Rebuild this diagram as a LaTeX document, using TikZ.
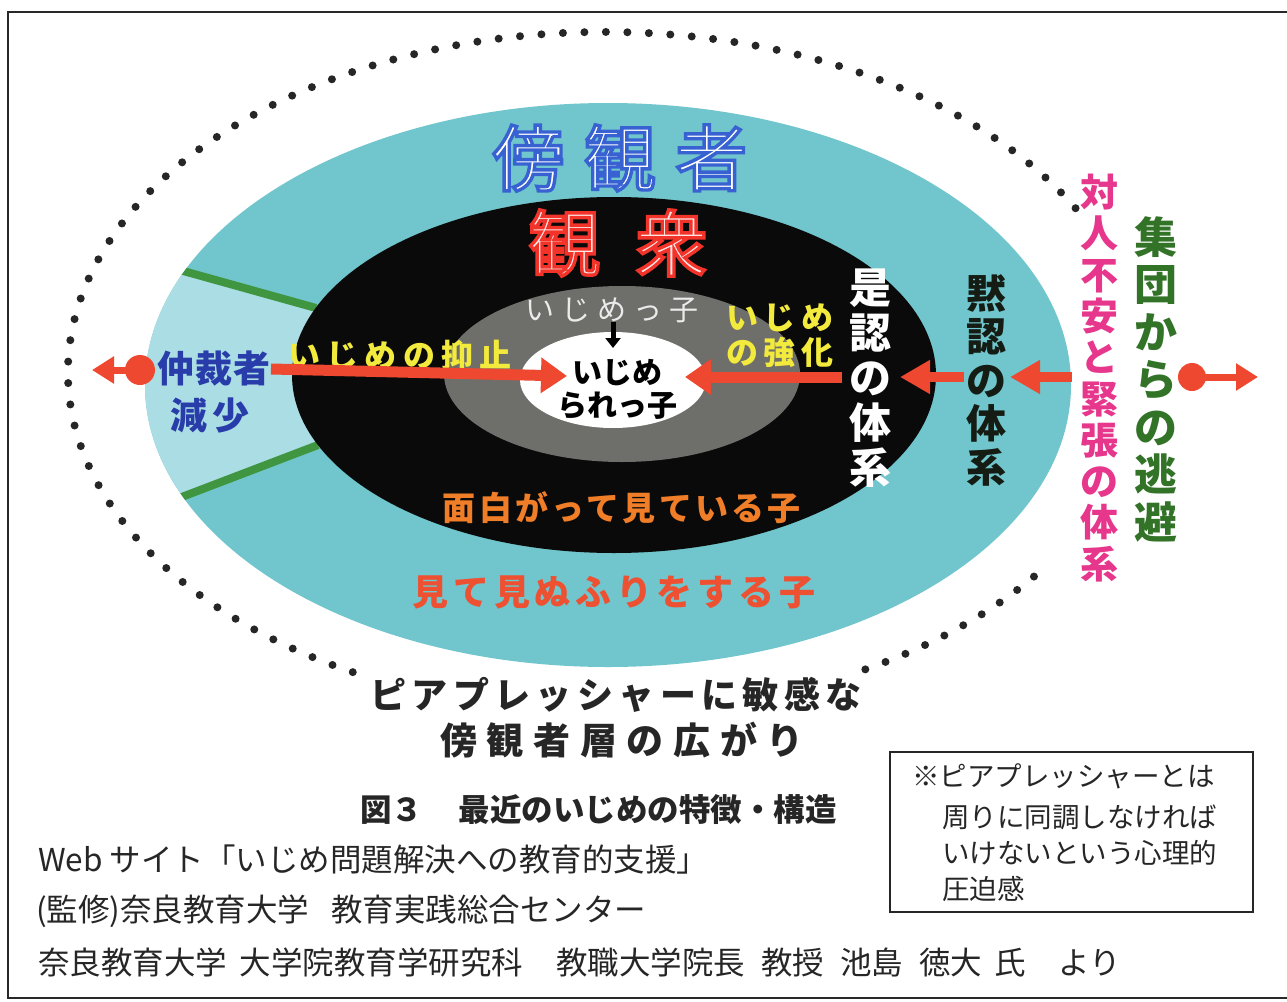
\documentclass[tikz,border=0pt]{standalone}
\usepackage{fontspec}
\setmainfont{Noto Sans CJK JP}
\newfontfamily\jp{Noto Sans CJK JP}
\usetikzlibrary{arrows.meta}
\newcommand{\myfs}[2]{\fontsize{#1}{#2}\selectfont}
\newcommand{\myls}[1]{\addfontfeature{LetterSpace=#1}}
% outlined text: fill with current colour, stroke with colour #1 (rgb triple), width #2
\newcommand{\outltext}[3]{\special{pdf:literal direct 2 Tr #2 w #1 RG}#3\special{pdf:literal direct 0 Tr}}
\definecolor{turq}{RGB}{112,198,204}
\definecolor{lturq}{RGB}{170,222,228}
\definecolor{dgray}{RGB}{110,110,106}
\definecolor{arrred}{RGB}{238,72,48}
\definecolor{grn}{RGB}{64,150,64}
\definecolor{yel}{RGB}{242,234,60}
\definecolor{chublue}{RGB}{40,60,170}
\definecolor{jpink}{RGB}{230,55,140}
\definecolor{jgreen}{RGB}{50,115,40}
\definecolor{orng}{RGB}{240,125,40}
\definecolor{redor}{RGB}{238,80,50}
\definecolor{nearblk}{RGB}{20,28,20}
\definecolor{pinkw}{RGB}{255,228,228}
\definecolor{frame}{RGB}{40,40,40}
\begin{document}
\begin{tikzpicture}[x=1pt,y=-1pt,
  txt/.style={inner sep=0pt, outer sep=0pt},
  dots/.style={line width=8pt, dash pattern=on 0pt off 21.5pt, line cap=round, draw=black!85},
  redarr/.style={draw=arrred, color=arrred, line width=11pt, -{Triangle[length=26pt,width=34pt]}},
  midarr/.style={draw=arrred, color=arrred, line width=10pt, -{Triangle[length=30pt,width=32pt]}},
  smallarr/.style={draw=arrred, color=arrred, line width=7pt, -{Triangle[length=22pt,width=26pt]}},
  vert/.style={txt, align=center},
  foot/.style={txt, anchor=west, font=\jp\myfs{31.5}{34}, text=black!85},
  boxt/.style={txt, anchor=west, font=\jp\myfs{27.5}{30}, text=black!85},
]
\useasboundingbox (0,0) rectangle (1287,1001);
\fill[white] (0,0) rectangle (1287,1001);
\draw[frame, line width=2pt] (1300,12) -- (8,12) -- (8,998) -- (1300,998);

% dotted outer ellipse
\draw[dots] (605,372) ++(-28.8:537 and 340) arc[start angle=-28.8, end angle=-242.5, x radius=537, y radius=340];
\draw[dots] (605,372) ++(61:537 and 340) arc[start angle=61, end angle=35, x radius=537, y radius=340];

% layers
\fill[turq] (608,385) ellipse [x radius=463, y radius=282];
\begin{scope}
\clip (608,385) ellipse [x radius=463, y radius=282];
\fill[lturq] (90,245) -- (316,308) -- (318,445) -- (90,532) -- cycle;
\draw[grn, line width=8pt] (90,245) -- (316,308);
\draw[grn, line width=8pt] (90,532) -- (318,445);
\end{scope}
\fill[black!96] (614,375) ellipse [x radius=322, y radius=178];
\fill[dgray] (622,374) ellipse [x radius=178, y radius=88];
\fill[white] (613,380) ellipse [x radius=93, y radius=48];

% outlined titles
\node[txt, text=white, font=\jp\myfs{72}{76}\myls{27}] (boukan) at (620,158) {\outltext{0.22 0.38 0.82}{3.4}{傍観者}};
\node[txt, text=pinkw, font=\jp\myfs{72}{76}\myls{49}] (kanshu) at (618,243) {\outltext{0.95 0.2 0.16}{3.4}{観衆}};

% inner texts
\node[txt, text=black!8, font=\jp\myfs{29}{32}\myls{24}] (ijimekko) at (612,310) {いじめっ子};
\node[txt, align=center, font=\jp\bfseries\myfs{30}{33}] (ijimerare) at (617,389) {いじめ\\られっ子};
\node[txt, text=yel, font=\jp\bfseries\myfs{32}{35}\myls{20}] (yokushi) at (400,355) {いじめの抑止};
\node[txt, align=center, text=yel, font=\jp\bfseries\myfs{32}{35}\myls{17}] (kyouka) at (780,336) {いじめ\\の強化};
\node[txt, text=chublue, font=\jp\bfseries\myfs{37}{40}\myls{4}] (chusai) at (214,369) {仲裁者};
\node[txt, text=chublue, font=\jp\bfseries\myfs{37}{40}\myls{12}] (genshou) at (210,416) {減少};
\node[vert, text=white, font=\jp\bfseries\myfs{42}{45}] (zenin) at (870,378) {是\\認\\の\\体\\系};
\node[vert, text=nearblk, font=\jp\bfseries\myfs{40}{43.5}] (mokunin) at (986,380) {黙\\認\\の\\体\\系};
\node[vert, text=jpink, font=\jp\bfseries\myfs{38}{41.3}] (taijin) at (1099,378) {対\\人\\不\\安\\と\\緊\\張\\の\\体\\系};
\node[vert, text=jgreen, font=\jp\bfseries\myfs{43}{47.5}] (shudan) at (1156,379) {集\\団\\か\\ら\\の\\逃\\避};
\node[txt, text=orng, font=\jp\bfseries\myfs{33}{36}\myls{10}] (omoshiro) at (622,508) {面白がって見ている子};
\node[txt, text=redor, font=\jp\bfseries\myfs{36}{39}\myls{13}] (mitemi) at (614,592) {見て見ぬふりをする子};
\node[txt, text=black!85, font=\jp\bfseries\myfs{36}{40}\myls{15}] (peer) at (616,695) {ピアプレッシャーに敏感な};
\node[txt, text=black!85, font=\jp\bfseries\myfs{37}{40}\myls{26}] (hiroga) at (622,740) {傍観者層の広がり};
\node[txt, anchor=west, text=black!85, font=\jp\bfseries\myfs{31.5}{34}] (zu) at (360,810) {図３\hspace{36pt}最近のいじめの特徴・構造};

% footer
\node[foot] (f1) at (38,860) {Web サイト「いじめ問題解決への教育的支援」};
\node[foot] (f2) at (36,911) {(監修)奈良教育大学\hspace{22pt}教育実践総合センター};
\node[foot] (f3) at (38,963) {奈良教育大学\hspace{13pt}大学院教育学研究科\hspace{33pt}教職大学院長\hspace{16pt}教授\hspace{16pt}池島\hspace{16pt}徳大\hspace{12pt}氏\hspace{33pt}より};

% note box
\node[draw=black!85, line width=1.6pt, minimum width=363pt, minimum height=160pt, inner sep=0pt] (notebox) at (1071.5,832) {};
\node[boxt] (n1) at (912,776) {※ピアプレッシャーとは};
\node[boxt] (n2) at (942,817) {周りに同調しなければ};
\node[boxt] (n3) at (942,853) {いけないという心理的};
\node[boxt] (n4) at (942,889) {圧迫感};

% arrows
\coordinate (a1s) at (chusai.east);
\coordinate (a1e) at (567,376);
\draw[redarr] (a1s) -- (a1e);
\coordinate (a2s) at (842,377);
\coordinate (a2e) at (685,377);
\draw[redarr] (a2s) -- (a2e);
\coordinate (a3s) at (964,377);
\coordinate (a3e) at (900,377);
\draw[midarr] (a3s) -- (a3e);
\coordinate (a4s) at (1072,377);
\coordinate (a4e) at (1010,377);
\draw[midarr] (a4s) -- (a4e);
% escape arrows
\coordinate (rc) at (1192,377);
\coordinate (re) at (1258,377);
\fill[arrred] (rc) circle[radius=14];
\draw[smallarr] (rc) -- (re);
\coordinate (lc) at (140,370);
\coordinate (le) at (92,370);
\fill[arrred] (lc) circle[radius=15];
\draw[smallarr] (lc) -- (le);
% small black arrow
\coordinate (ks) at (613,322);
\coordinate (ke) at (613,348);
\draw[line width=5pt, -{Triangle[length=10pt,width=15pt]}] (ks) -- (ke);
\end{tikzpicture}
\end{document}
